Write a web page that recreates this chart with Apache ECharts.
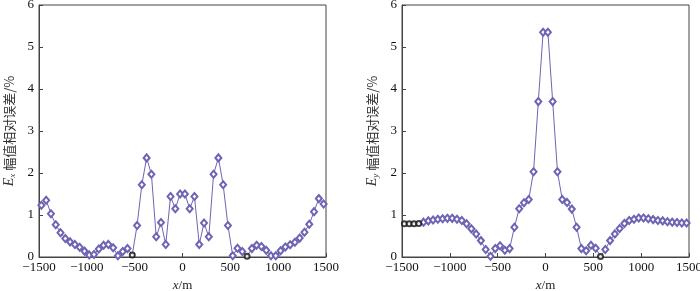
<!DOCTYPE html>
<html>
<head>
<meta charset="utf-8">
<script src="https://cdn.jsdelivr.net/npm/echarts@6/dist/echarts.min.js"></script>
<style>
  html, body { margin: 0; padding: 0; background: #fff; }
  #chart { width: 700px; height: 291px; }
</style>
</head>
<body>
<div id="chart"></div>
<script>
// 测点位置 (m)
const xPos = [
  -1475, -1425, -1375, -1325, -1275, -1225, -1175, -1125, -1075, -1025,
  -975, -925, -875, -825, -775, -725, -675, -625, -575, -525,
  -475, -425, -375, -325, -275, -225, -175, -125, -75, -25,
  25, 75, 125, 175, 225, 275, 325, 375, 425, 475,
  525, 575, 625, 675, 725, 775, 825, 875, 925, 975,
  1025, 1075, 1125, 1175, 1225, 1275, 1325, 1375, 1425, 1475
]

// Ex 幅值相对误差 (%)
const exErr = [
  1.23, 1.35, 1.03, 0.77, 0.58, 0.44, 0.36, 0.30, 0.23, 0.14,
  0.05, 0.06, 0.19, 0.28, 0.30, 0.22, 0.03, 0.13, 0.20, 0.05,
  0.75, 1.72, 2.36, 1.97, 0.48, 0.82, 0.30, 1.44, 1.15, 1.50,
  1.50, 1.15, 1.44, 0.30, 0.81, 0.48, 1.97, 2.36, 1.72, 0.75,
  0.03, 0.21, 0.13, 0.02, 0.20, 0.28, 0.25, 0.16, 0.03, 0.03,
  0.15, 0.24, 0.29, 0.35, 0.45, 0.59, 0.78, 1.08, 1.39, 1.26
]

// Ey 幅值相对误差 (%)
const eyErr = [
  0.79, 0.79, 0.79, 0.80, 0.83, 0.86, 0.88, 0.90, 0.91, 0.92,
  0.92, 0.90, 0.87, 0.79, 0.67, 0.55, 0.39, 0.18, 0.02, 0.20,
  0.27, 0.16, 0.20, 0.71, 1.15, 1.29, 1.37, 2.03, 3.70, 5.35,
  5.35, 3.70, 2.03, 1.37, 1.30, 1.14, 0.71, 0.20, 0.15, 0.28,
  0.21, 0.01, 0.18, 0.39, 0.55, 0.68, 0.80, 0.87, 0.90, 0.93,
  0.93, 0.91, 0.89, 0.87, 0.86, 0.84, 0.83, 0.82, 0.81, 0.81
]

// 黑色圆圈标记的测点
const exBlack = [-525, 675]
const eyBlack = [-1475, -1425, -1375, -1325, 575]

const xTicks = [-1500, -1000, -500, 0, 500, 1000, 1500]
const yTicks = [0, 1, 2, 3, 4, 5, 6]

const lineColor = '#6e64b4'
const font = '"Liberation Serif", "Times New Roman", serif'
const cjkFont = '"Noto Sans CJK SC", sans-serif'

function fmtX(v) {
  return v < 0 ? '\u2212' + Math.abs(v) : String(v)
}

function makeXAxis(idx) {
  return {
    gridIndex: idx,
    type: 'value',
    min: xTicks[0],
    max: xTicks[xTicks.length - 1],
    interval: 500,
    name: '{i|x}/m',
    nameLocation: 'middle',
    nameGap: 19,
    nameTextStyle: {
      color: '#222',
      fontFamily: font,
      fontSize: 13,
      rich: { i: { fontStyle: 'italic', fontFamily: font, fontSize: 13, color: '#222' } }
    },
    axisLine: { show: true, onZero: false, lineStyle: { color: '#444', width: 1 } },
    axisTick: { show: true, inside: true, length: 4, lineStyle: { color: '#444' } },
    axisLabel: { color: '#111', fontFamily: font, fontSize: 13, margin: 4, formatter: fmtX },
    splitLine: { show: false }
  }
}

function makeYAxis(idx, sub) {
  return {
    gridIndex: idx,
    type: 'value',
    min: yTicks[0],
    max: yTicks[yTicks.length - 1],
    interval: 1,
    name: '{e|E}{s|' + sub + '} {c|幅值相对误差/%}',
    nameLocation: 'middle',
    nameRotate: 90,
    nameGap: 22,
    nameTextStyle: {
      color: '#333',
      fontFamily: cjkFont,
      fontSize: 13,
      rich: {
        e: { fontStyle: 'italic', fontFamily: font, fontSize: 14, color: '#333' },
        s: { fontStyle: 'italic', fontFamily: font, fontSize: 9, color: '#333', padding: [6, 0, 0, 0] },
        c: { fontFamily: cjkFont, fontSize: 13, color: '#333' }
      }
    },
    axisLine: { show: true, onZero: false, lineStyle: { color: '#444', width: 1 } },
    axisTick: { show: true, inside: true, length: 4, lineStyle: { color: '#444' } },
    axisLabel: { color: '#111', fontFamily: font, fontSize: 13, margin: 5 },
    splitLine: { show: false }
  }
}

function makeSeries(idx, values, black) {
  const pts = xPos.map((x, i) => [x, values[i]])
  const blackPts = pts.filter(p => black.includes(p[0]))
  return [
    {
      type: 'line',
      xAxisIndex: idx,
      yAxisIndex: idx,
      data: pts,
      symbol: (v) => black.includes(v[0]) ? 'none' : 'emptyDiamond',
      symbolSize: [6, 7],
      showAllSymbol: true,
      lineStyle: { color: lineColor, width: 1 },
      itemStyle: { color: lineColor, borderColor: lineColor, borderWidth: 1 },
      animation: false
    },
    {
      type: 'scatter',
      xAxisIndex: idx,
      yAxisIndex: idx,
      data: blackPts,
      symbol: 'emptyCircle',
      symbolSize: 5,
      itemStyle: { color: '#111', borderColor: '#111', borderWidth: 1.2 },
      z: 3,
      animation: false
    }
  ]
}

const chart = echarts.init(document.getElementById('chart'))
chart.setOption({
  backgroundColor: '#fff',
  animation: false,
  grid: [
    { left: 39, right: 374, top: 5, bottom: 34, show: true, borderColor: '#444', borderWidth: 1, outerBoundsMode: 'none', containLabel: false },
    { left: 402, right: 11, top: 5, bottom: 34, show: true, borderColor: '#444', borderWidth: 1, outerBoundsMode: 'none', containLabel: false }
  ],
  xAxis: [makeXAxis(0), makeXAxis(1)],
  yAxis: [makeYAxis(0, 'x'), makeYAxis(1, 'y')],
  series: [...makeSeries(0, exErr, exBlack), ...makeSeries(1, eyErr, eyBlack)]
})
</script>
</body>
</html>
